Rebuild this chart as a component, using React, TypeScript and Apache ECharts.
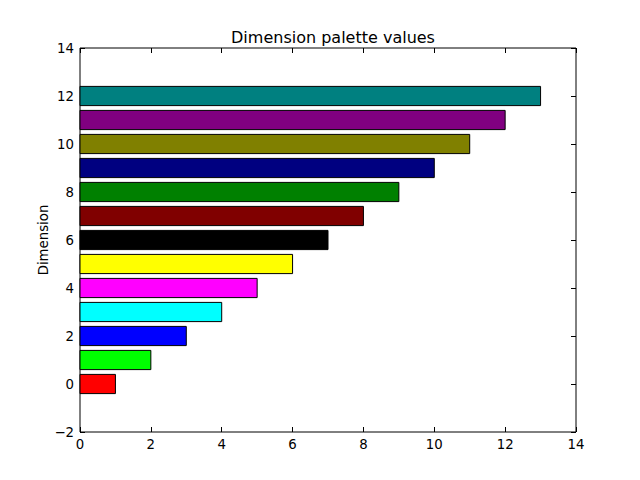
import React, { useEffect, useRef } from "react";
import * as echarts from "echarts";

const dimensions = [0, 1, 2, 3, 4, 5, 6, 7, 8, 9, 10, 11, 12];
const values = [1, 2, 3, 4, 5, 6, 7, 8, 9, 10, 11, 12, 13];
const colors = [
  "#ff0000", "#00ff00", "#0000ff", "#00ffff", "#ff00ff", "#ffff00",
  "#000000", "#800000", "#008000", "#000080", "#808000", "#800080", "#008080",
];
const barHeight = 0.8;

const FONT = "DejaVu Sans";
const fmt = (v: number) => String(v).replace("-", "\u2212");

export default function App() {
  const ref = useRef<HTMLDivElement>(null);
  useEffect(() => {
    document.body.style.margin = "0";
    const chart = echarts.init(ref.current!, null, { renderer: "svg" });
    const axisCommon = {
      axisLine: { show: false, onZero: false },
      splitLine: { show: false },
      axisTick: { show: true, inside: true, length: 5, lineStyle: { color: "#000", width: 1 } },
    };
    chart.setOption({
      animation: false,
      backgroundColor: "#fff",
      title: {
        text: "Dimension palette values",
        left: 328,
        textAlign: "center",
        top: 24,
        textStyle: { fontFamily: FONT, fontSize: 16, fontWeight: "normal", color: "#000" },
      },
      grid: { left: 80, right: 64, top: 48, bottom: 48, show: true, borderColor: "#000", borderWidth: 1, backgroundColor: "transparent" },
      xAxis: [
        {
          type: "value", min: 0, max: 14, interval: 2, position: "bottom",
          ...axisCommon,
          axisLabel: { color: "#000", fontFamily: FONT, fontSize: 13.3, margin: 6, formatter: fmt },
        },
        {
          type: "value", min: 0, max: 14, interval: 2, position: "top",
          ...axisCommon,
          axisLabel: { show: false },
        },
      ],
      yAxis: [
        {
          type: "value", min: -2, max: 14, interval: 2, position: "left",
          ...axisCommon,
          name: "Dimension", nameLocation: "middle", nameGap: 30, nameMoveOverlap: false,
          nameTextStyle: { color: "#000", fontFamily: FONT, fontSize: 13.3 },
          axisLabel: { color: "#000", fontFamily: FONT, fontSize: 13.3, margin: 6, formatter: fmt },
        },
        {
          type: "value", min: -2, max: 14, interval: 2, position: "right",
          ...axisCommon,
          axisLabel: { show: false },
        },
      ],
      series: [
        {
          type: "custom",
          xAxisIndex: 0,
          yAxisIndex: 0,
          data: dimensions.map((d, i) => [values[i], d, i]),
          encode: { x: 0, y: 1 },
          renderItem: (params: any, api: any) => {
            const v = api.value(0);
            const d = api.value(1);
            const idx = api.value(2);
            const p0 = api.coord([0, d + barHeight / 2]);
            const p1 = api.coord([v, d - barHeight / 2]);
            return {
              type: "rect",
              shape: { x: p0[0], y: p0[1], width: p1[0] - p0[0], height: p1[1] - p0[1] },
              style: { fill: colors[idx], stroke: "#000", lineWidth: 1 },
            };
          },
        },
      ],
    });
    return () => chart.dispose();
  }, []);
  return <div ref={ref} style={{ width: 640, height: 480 }} />;
}
